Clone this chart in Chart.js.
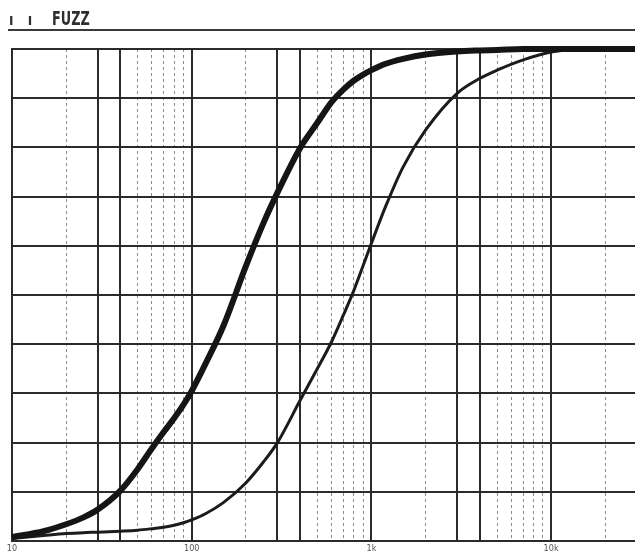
<!DOCTYPE html>
<html lang="en">
<head>
<meta charset="UTF-8">
<title>Fuzz</title>
<script src="https://cdn.jsdelivr.net/npm/chart.js"></script>
<style>
  body { margin: 0; background: #fff; }
  #wrap { position: relative; width: 635px; height: 555px; }
  #title {
    position: absolute; left: 8px; top: 6px; width: 627px; height: 23px;
    border-bottom: 2px solid #3a3a3a;
    font-family: 'DejaVu Sans', sans-serif;
    font-weight: bold; color: #2e2e2e;
  }
  #title .marks { position: absolute; left: 1px; top: 8px; font-size: 12px; letter-spacing: 5px; }
  #title .name {
    position: absolute; left: 44px; top: 0px; font-size: 20px;
    transform: scaleX(0.64); transform-origin: left top;
  }
</style>
</head>
<body>
<div id="wrap">
  <canvas id="fuzzChart" width="635" height="555"></canvas>
  <div id="title"><span class="marks">I I</span><span class="name">FUZZ</span></div>
</div>
<script>
// frequency (Hz) and response (0..10 divisions)
const freqs = [10, 15, 20, 25, 30, 40, 50, 60, 70, 80, 90, 100, 120, 150, 200, 250, 300, 400, 500, 600,
               700, 800, 900, 1000, 1200, 1500, 2000, 3000, 4000, 5000, 7000, 10000, 15000, 20000, 29300];
const thickCurve = [0.08, 0.2, 0.34, 0.48, 0.64, 1.02, 1.46, 1.88, 2.22, 2.5, 2.77, 3.05, 3.62, 4.37, 5.58, 6.45, 7.08, 7.98, 8.5, 8.92,
                    9.18, 9.36, 9.48, 9.57, 9.7, 9.8, 9.89, 9.95, 9.97, 9.98, 10, 10, 10, 10, 10];
const thinCurve = [0.05, 0.11, 0.15, 0.17, 0.18, 0.2, 0.22, 0.25, 0.28, 0.32, 0.37, 0.43, 0.56, 0.78, 1.18, 1.6, 2.0, 2.85, 3.5, 4.05,
                   4.6, 5.1, 5.6, 6.05, 6.8, 7.6, 8.35, 9.1, 9.4, 9.57, 9.78, 9.94, 10, 10, 10];

// grid: heavy lines at 1, 3, 4 of each decade, dashed at the rest
const solidTicks = [10, 30, 40, 100, 300, 400, 1000, 3000, 4000, 10000];
const dashedTicks = [20, 50, 60, 70, 80, 90, 200, 500, 600, 700, 800, 900,
                     2000, 5000, 6000, 7000, 8000, 9000, 20000];
const tickLabels = { 10: '10', 100: '100', 1000: '1k', 10000: '10k' };

const toPoints = ys => freqs.map((f, i) => ({ x: f, y: ys[i] }));

new Chart(document.getElementById('fuzzChart'), {
  type: 'line',
  data: {
    datasets: [
      { data: toPoints(thickCurve), borderColor: '#151515', borderWidth: 6, pointRadius: 0,
        cubicInterpolationMode: 'monotone', clip: 8 },
      { data: toPoints(thinCurve), borderColor: '#1c1c1c', borderWidth: 3, pointRadius: 0,
        cubicInterpolationMode: 'monotone', clip: 8 }
    ]
  },
  options: {
    responsive: false,
    animation: false,
    layout: { padding: { left: 12, top: 49, right: 0, bottom: 0 } },
    plugins: { legend: { display: false }, tooltip: { enabled: false } },
    scales: {
      x: {
        type: 'logarithmic', position: 'bottom', min: 10, max: 29300,
        afterBuildTicks: s => { s.ticks = solidTicks.map(v => ({ value: v })); },
        afterFit: s => { s.height = 14; },
        grid: { color: '#2b2b2b', lineWidth: 2, drawTicks: false },
        border: { display: true, color: '#2b2b2b', width: 2 },
        ticks: {
          autoSkip: false, maxRotation: 0, padding: 2, color: '#555',
          font: { family: 'DejaVu Sans Condensed', size: 9 },
          callback: v => tickLabels[v] || ''
        }
      },
      x2: {
        type: 'logarithmic', position: 'bottom', min: 10, max: 29300,
        afterBuildTicks: s => { s.ticks = dashedTicks.map(v => ({ value: v })); },
        afterFit: s => { s.height = 0; },
        grid: { color: '#8a8a8a', lineWidth: 1, drawTicks: false },
        border: { display: false, dash: [3, 3] },
        ticks: { display: false }
      },
      y: {
        min: 0, max: 10,
        afterFit: s => { s.width = 0; },
        grid: { color: '#2b2b2b', lineWidth: 2, drawTicks: false },
        border: { display: true, color: '#2b2b2b', width: 2 },
        ticks: { display: false, stepSize: 1 }
      }
    }
  }
});
</script>
</body>
</html>
